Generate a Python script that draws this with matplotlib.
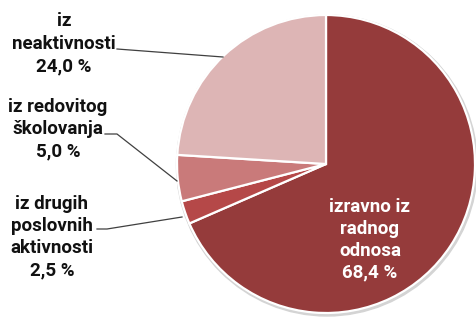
import matplotlib
matplotlib.use("Agg")
import matplotlib.pyplot as plt
from matplotlib.patches import Circle

labels = ["izravno iz\nradnog\nodnosa", "iz drugih\nposlovnih\naktivnosti",
          "iz redovitog\nškolovanja", "iz\nneaktivnosti"]
values = [68.4, 2.5, 5.0, 24.0]
value_texts = ["68,4 %", "2,5 %", "5,0 %", "24,0 %"]
colors = ["#953B3B", "#B54848", "#C97A7A", "#DDB5B5"]

W, H = 477, 317
fig = plt.figure(figsize=(W / 100, H / 100), dpi=100)
ax = fig.add_axes([0, 0, 1, 1])

cx, cy, r = 326, H - 164, 149
ax.add_patch(Circle((cx + 1, cy - 1.5), r + 1.5, color="#d4d4d4", zorder=0))
ax.pie(values, colors=colors, startangle=90, counterclock=False,
       center=(cx, cy), radius=r, frame=True,
       wedgeprops=dict(edgecolor="white", linewidth=1.6))
ax.set_xlim(0, W)
ax.set_ylim(0, H)
ax.axis("off")

fam = ["Roboto", "DejaVu Sans"]
fs = 13.5

# inside label
ax.text(370, H - 240, labels[0] + "\n" + value_texts[0], ha="center", va="center",
        color="white", fontsize=fs, fontweight="bold", family=fam, linespacing=1.27)

# outside labels
ax.text(64, H - 44, labels[3] + "\n" + value_texts[3], ha="center", va="center",
        color="#111111", fontsize=fs, fontweight="bold", family=fam, linespacing=1.35)
ax.text(58, H - 129, labels[2] + "\n" + value_texts[2], ha="center", va="center",
        color="#111111", fontsize=fs, fontweight="bold", family=fam, linespacing=1.3)
ax.text(52, H - 237, labels[1] + "\n" + value_texts[1], ha="center", va="center",
        color="#111111", fontsize=fs, fontweight="bold", family=fam, linespacing=1.3)

# leader lines
lc = "#404040"
ax.plot([117, 223], [H - 49, H - 57], color=lc, lw=0.9)
ax.plot([105, 117, 177], [H - 134, H - 134, H - 181], color=lc, lw=0.9)
ax.plot([97, 107, 182], [H - 229, H - 229, H - 217], color=lc, lw=0.9)

fig.savefig("out.png", dpi=100)
